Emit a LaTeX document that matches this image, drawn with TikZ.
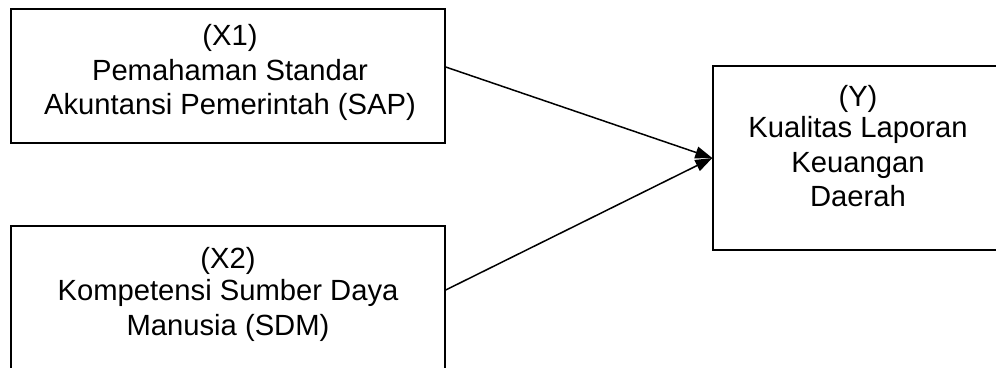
\documentclass[tikz,border=0pt]{standalone}
\usepackage{fontspec}
\setmainfont{Liberation Sans}
\usetikzlibrary{arrows.meta}
\begin{document}
\begin{tikzpicture}[x=1pt,y=-1pt,
  box/.style={draw, line width=1.4pt, rectangle, inner sep=0pt},
  lbl/.style={align=center, font=\fontsize{29.2}{34.5}\selectfont, inner sep=0pt},
  link/.style={line width=1.5pt, -{Triangle[length=17pt,width=12pt]}}]
\useasboundingbox (0,0) rectangle (996,367);
\clip (0,0) rectangle (996,367);
\node[box, minimum width=434pt, minimum height=134pt] (x1) at (228,76) {};
\node[box, minimum width=434pt, minimum height=146pt] (x2) at (228,299) {};
\node[box, minimum width=290pt, minimum height=184pt] (y) at (858,158) {};
\node[lbl] (x1t) at (230,72.5) {(X1)\\Pemahaman Standar\\Akuntansi Pemerintah (SAP)};
\node[lbl] (x2t) at (228,294) {(X2)\\[-2pt]Kompetensi Sumber Daya\\Manusia (SDM)};
\node[lbl] (yt) at (858,146) {(Y)\\[-3pt]Kualitas Laporan\\Keuangan\\Daerah};
\draw[link] ([yshift=9pt]x1.east) -- (y.west);
\draw[link] ([yshift=9pt]x2.east) -- (y.west);
\end{tikzpicture}
\end{document}
